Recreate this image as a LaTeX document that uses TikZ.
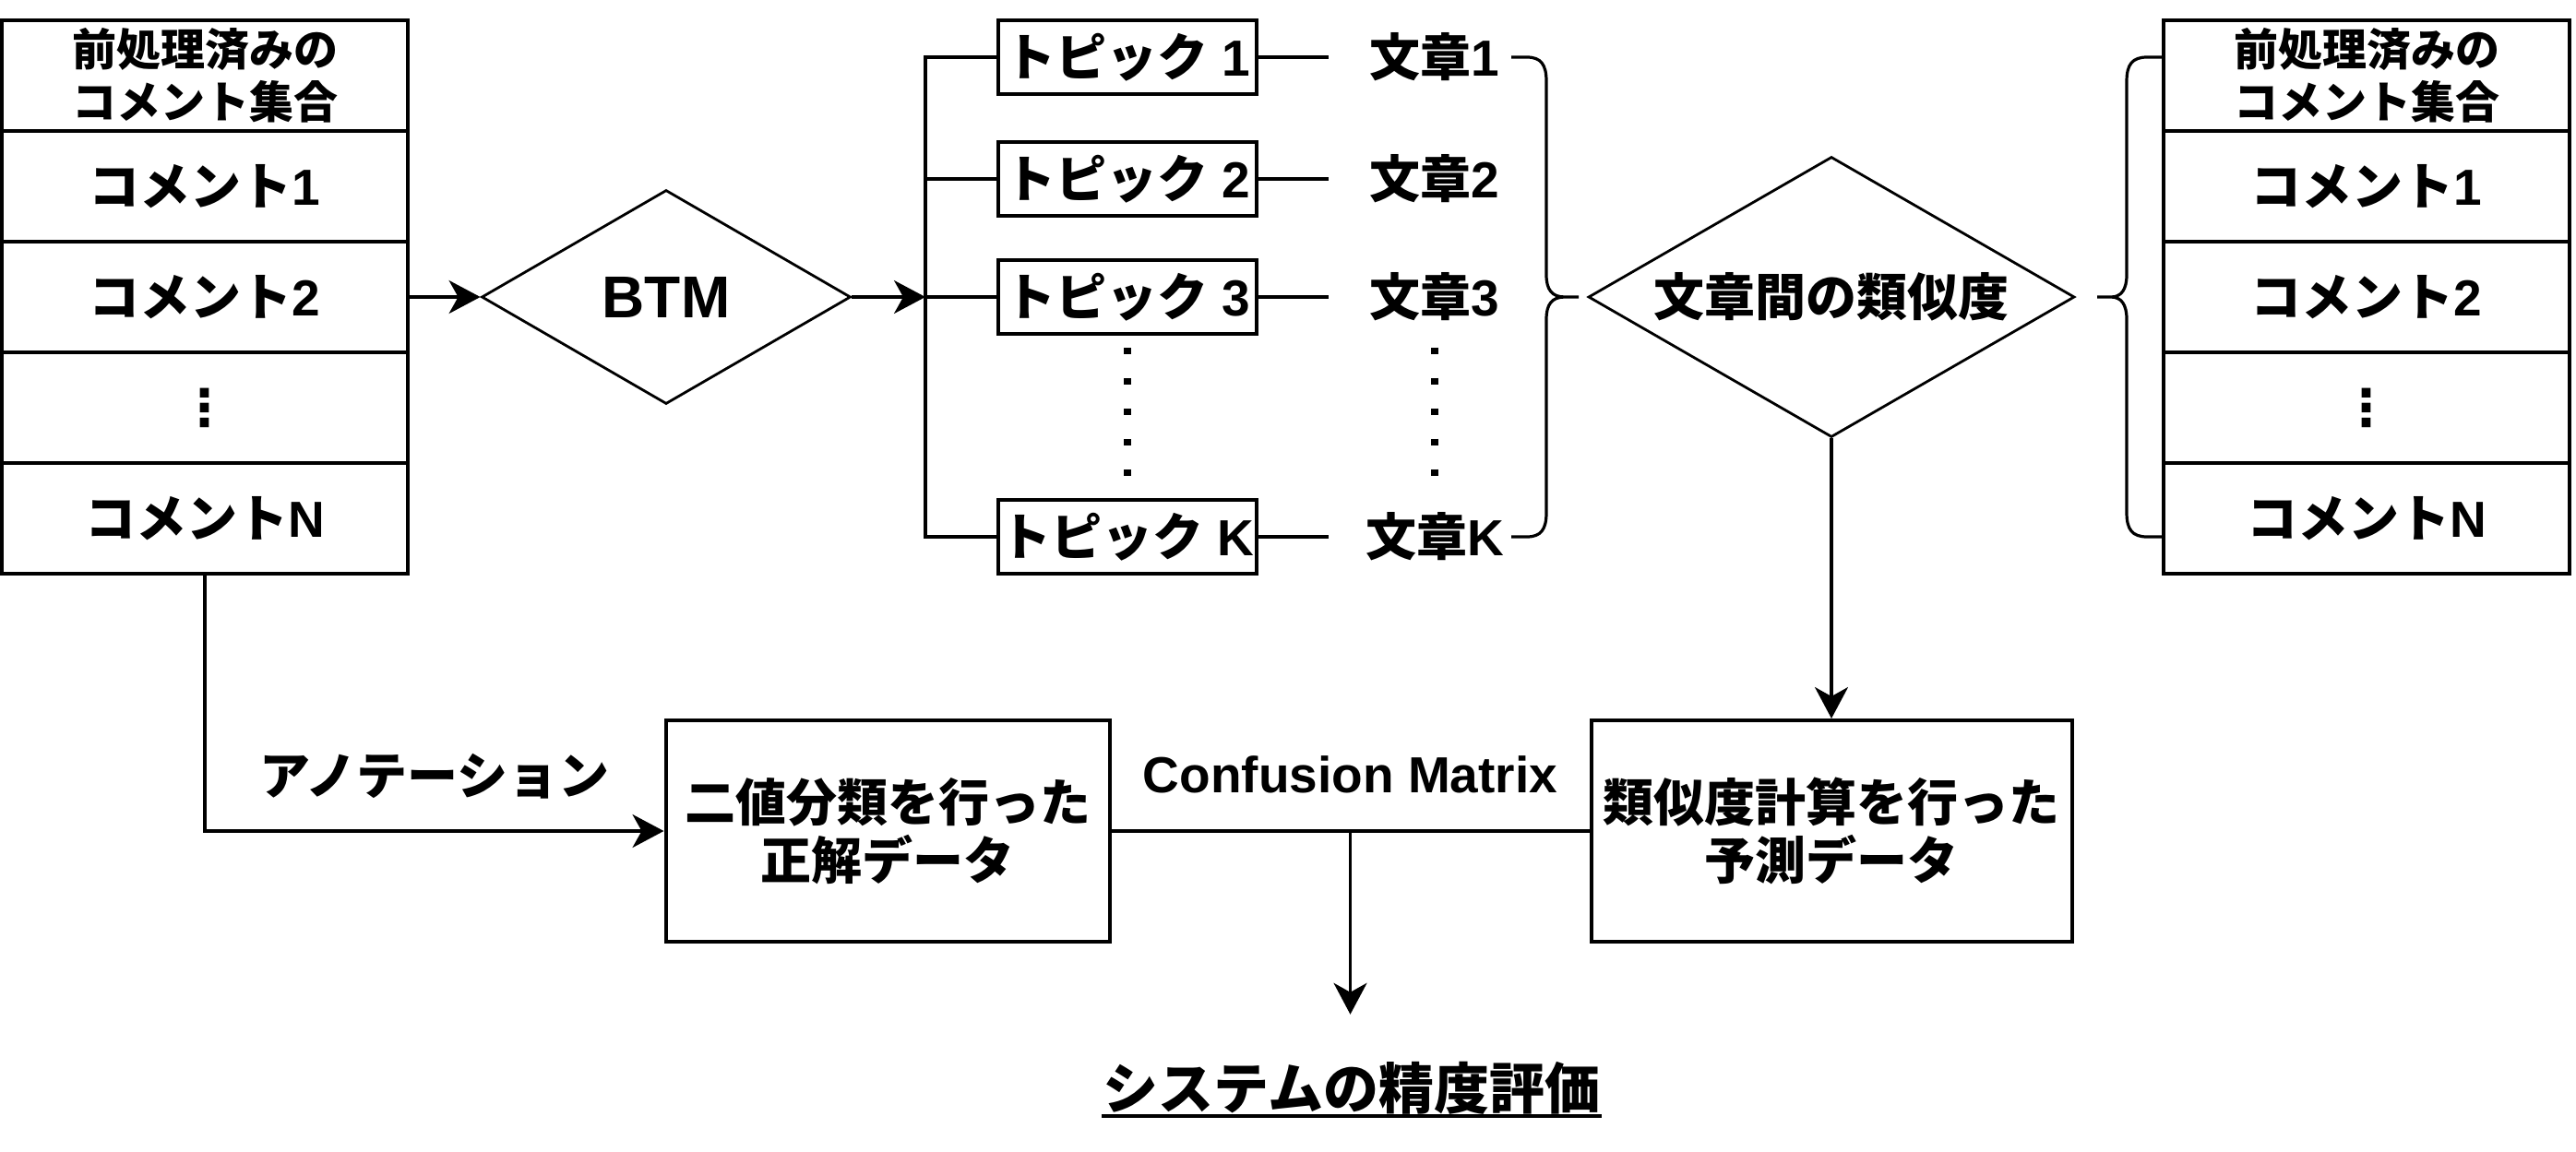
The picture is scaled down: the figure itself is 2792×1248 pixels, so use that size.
\documentclass[tikz,border=0pt]{standalone}
\usepackage{fontspec}
\setmainfont{Liberation Sans}
\newfontfamily\jp{Noto Sans CJK JP}
\newfontfamily\sym{DejaVu Sans}
\usetikzlibrary{arrows.meta,shapes.geometric}

\begin{document}
\begin{tikzpicture}[x=0.5pt,y=-0.5pt,>={Stealth[length=17pt,width=18pt,inset=5pt]},line width=1.6pt,
        big/.style={font=\fontsize{27.5}{31.5}\selectfont\bfseries},
        cell/.style={big,draw,line width=2pt,minimum width=220pt,minimum height=60pt,inner sep=0pt},
        head cell/.style={cell,align=center,font=\fontsize{24}{28.5}\selectfont\bfseries\jp},
        topic/.style={big,draw,line width=2pt,minimum width=140pt,minimum height=40pt,inner sep=0pt},
        doc/.style={big,minimum width=113pt,minimum height=40pt,inner sep=0pt},
        decision/.style={big,diamond,draw,line width=1.4pt,inner sep=0pt,aspect=1.73},
        data/.style={big,draw,line width=2pt,minimum height=120pt,inner sep=0pt,align=center},
        dots/.style={line width=3.8pt,dash pattern=on 3.5pt off 13pt,dash phase=10pt}]
        \useasboundingbox (0,0) rectangle (2792,1248);
        \node[head cell] (l0) at (222,82) {前処理済みの\\コメント集合};
        \node[cell] (l1) at (222,202) {{\jp コメント}1};
        \node[cell] (l2) at (222,322) {{\jp コメント}2};
        \node[cell] (l3) at (222,442) {\sym ⋮};
        \node[cell] (lN) at (222,562) {{\jp コメント}N};
        \node[decision,minimum width=200pt,minimum height=116pt,font=\fontsize{32}{36}\selectfont\bfseries] (btm) at (722,322) {BTM};
        \coordinate (split) at (1003,322);
        \node[topic] (t1) at (1222,62) {{\jp トピック} 1};
        \node[topic] (t2) at (1222,194) {{\jp トピック} 2};
        \node[topic] (t3) at (1222,322) {{\jp トピック} 3};
        \node[topic] (tK) at (1222,582) {{\jp トピック} K};
        \node[doc] (s1) at (1555,62) {{\jp 文章}1};
        \node[doc] (s2) at (1555,194) {{\jp 文章}2};
        \node[doc] (s3) at (1555,322) {{\jp 文章}3};
        \node[doc] (sK) at (1555,582) {{\jp 文章}K};
        \node[decision,minimum width=263.5pt,minimum height=152pt] (sim) at (1985,322) {{\jp 文章間の類似度}};
        \node[head cell] (r0) at (2565,82) {前処理済みの\\コメント集合};
        \node[cell] (r1) at (2565,202) {{\jp コメント}1};
        \node[cell] (r2) at (2565,322) {{\jp コメント}2};
        \node[cell] (r3) at (2565,442) {\sym ⋮};
        \node[cell] (rN) at (2565,562) {{\jp コメント}N};
        \node[data,minimum width=240.5pt] (truth) at (962,901) {{\jp 二値分類を行った}\\{\jp 正解データ}};
        \node[data,minimum width=260.5pt] (pred) at (1985,901) {{\jp 類似度計算を行った}\\{\jp 予測データ}};
        \node[font=\fontsize{30}{36}\selectfont\bfseries\jp,inner sep=0pt] (eval) at (1465,1180) {システムの精度評価};
        \draw[line width=2pt] (eval.south west) -- (eval.south east);
        \draw[->] (l2) -- (btm);
        \draw[->] (btm) -- (split);
        \draw (t1) -| (split) |- (tK);
        \draw (t2) -- (t2 -| split);
        \draw (t3) -- (split);
        \path (t1) edge (s1)
        (t2) edge (s2)
        (t3) edge (s3)
        (tK) edge (sK);
        \draw[dots] (t3) -- (tK);
        \draw[dots] (s3) -- (sK);
        \draw (1638,62) -- (1655,62) .. controls (1670,62) and (1676,70) .. (1676,88) -- (1676,298)
        .. controls (1676,314) and (1682,322) .. (1696,322) -- (1711,322)
        (1696,322) .. controls (1682,322) and (1676,330) .. (1676,346) -- (1676,556)
        .. controls (1676,574) and (1670,582) .. (1655,582) -- (1638,582);
        \draw (2344,62) -- (2327,62) .. controls (2311,62) and (2305,70) .. (2305,88) -- (2305,298)
        .. controls (2305,314) and (2299,322) .. (2288,322) -- (2273,322)
        (2288,322) .. controls (2299,322) and (2305,330) .. (2305,346) -- (2305,556)
        .. controls (2305,574) and (2311,582) .. (2327,582) -- (2344,582);
        \draw[->] (sim) -- (pred);
        \draw[->] (lN) |- node[pos=0.75,above=16.75pt,inner sep=0pt,big] {\jp アノテーション} (truth);
        \draw (truth) -- coordinate[pos=0.5] (mid) node[pos=0.5,above=19.5pt,inner sep=0pt,big] {Confusion Matrix} (pred);
        \draw[->,shorten >=25pt] (mid) -- (mid |- eval.north);
\end{tikzpicture}
\end{document}
